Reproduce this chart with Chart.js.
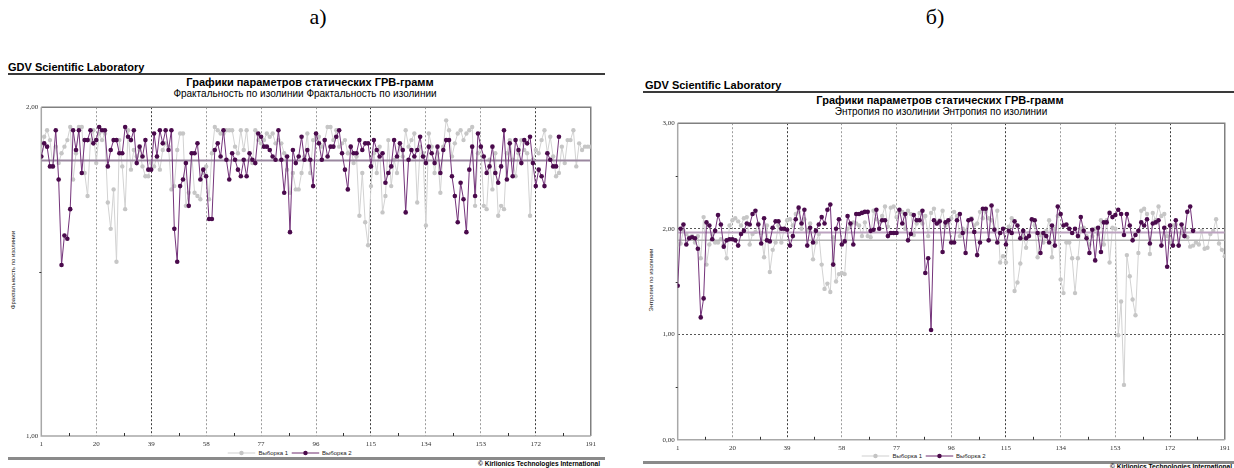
<!DOCTYPE html>
<html lang="ru">
<head>
<meta charset="utf-8">
<script src="https://cdn.jsdelivr.net/npm/chart.js@4.4.1/dist/chart.umd.min.js"></script>
<style>
  html, body { margin: 0; padding: 0; background: #fff; }
  body { width: 1234px; height: 468px; position: relative; overflow: hidden;
         font-family: "Liberation Sans", Arial, sans-serif; color: #000; }
  .t { position: absolute; white-space: nowrap; line-height: 1; }
  .letter { font-family: "Liberation Serif", "Times New Roman", serif; font-size: 22px; transform: translateX(-50%); }
  .lab { font-weight: bold; font-size: 11px; }
  .rule { position: absolute; border-top: 2px solid #3a3a3a; }
  .foot { position: absolute; border-top: 3px solid #8a8a8a; }
  .title { font-weight: bold; font-size: 11px; transform: translateX(-50%); }
  .sub { font-size: 10px; transform: translateX(-50%); }
  .ytitle { font-size: 6px; transform: translate(-50%, -50%) rotate(-90deg); color: #222; }
  .legend { position: absolute; display: flex; align-items: center; font-size: 6px; color: #222;
            transform: translate(-50%, -50%); white-space: nowrap; }
  .legend svg { margin: 0 3px; }
  .copy { font-size: 6.6px; font-weight: bold; }
  canvas { position: absolute; }
</style>
</head>
<body>

<div class="t letter" style="left:318px; top:6px;">а)</div>
<div class="t letter" style="left:935px; top:6px;">б)</div>

<!-- left panel texts -->
<div class="t lab" style="left:8px; top:62px;">GDV Scientific Laboratory</div>
<div class="rule" style="left:8px; top:73px; width:597px;"></div>
<div class="t title" style="left:310px; top:77px;">Графики параметров статических ГРВ-грамм</div>
<div class="t sub" style="left:305px; top:89px;">Фрактальность по изолинии Фрактальность по изолинии</div>
<div class="t ytitle" style="left:13px; top:270px;">Фрактальность по изолинии</div>
<div class="legend" style="left:288px; top:453px;">
  <svg width="28" height="6"><line x1="0" y1="3" x2="28" y2="3" stroke="#cfcfcf" stroke-width="1"/><circle cx="14" cy="3" r="2.2" fill="#c4c4c4"/></svg>Выборка 1
  <svg width="28" height="6"><line x1="0" y1="3" x2="28" y2="3" stroke="#6e2d6e" stroke-width="1"/><circle cx="14" cy="3" r="2.2" fill="#4b0a4b"/></svg>Выборка 2
</div>
<div class="foot" style="left:8px; top:457px; width:597px;"></div>
<div class="t copy" style="right:634px; top:461px;">© Kirlionics Technologies International</div>

<!-- right panel texts -->
<div class="t lab" style="left:645px; top:80px;">GDV Scientific Laboratory</div>
<div class="rule" style="left:643px; top:91px; width:591px;"></div>
<div class="t title" style="left:940px; top:95px;">Графики параметров статических ГРВ-грамм</div>
<div class="t sub" style="left:941px; top:107px;">Энтропия по изолинии Энтропия по изолинии</div>
<div class="t ytitle" style="left:651px; top:280px;">Энтропия по изолинии</div>
<div class="legend" style="left:922px; top:456px;">
  <svg width="28" height="6"><line x1="0" y1="3" x2="28" y2="3" stroke="#cfcfcf" stroke-width="1"/><circle cx="14" cy="3" r="2.2" fill="#c4c4c4"/></svg>Выборка 1
  <svg width="28" height="6"><line x1="0" y1="3" x2="28" y2="3" stroke="#6e2d6e" stroke-width="1"/><circle cx="14" cy="3" r="2.2" fill="#4b0a4b"/></svg>Выборка 2
</div>
<div class="foot" style="left:643px; top:461px; width:591px;"></div>
<div class="t copy" style="left:1110px; top:464px;">© Kirlionics Technologies International</div>

<canvas id="chart_fractal" width="600" height="350" style="left:0; top:100px;"></canvas>
<canvas id="chart_entropy" width="600" height="340" style="left:634px; top:116px;"></canvas>

<script>
// x axis labels, shared by both charts
const xTicks = [1, 20, 39, 58, 77, 96, 115, 134, 153, 172, 191]
const darkLines = [39, 115, 172]

// Фрактальность по изолинии
const fractal_1 = [
    1.87, 1.91, 1.93, 1.90, 1.82, 1.88, 1.83, 1.86, 1.88, 1.90,
    1.94, 1.78, 1.86, 1.94, 1.94, 1.80, 1.73, 1.90, 1.93, 1.83,
    1.92, 1.90, 1.92, 1.71, 1.63, 1.75, 1.53, 1.90, 1.82, 1.69,
    1.93, 1.81, 1.87, 1.85, 1.87, 1.82, 1.79, 1.79, 1.83, 1.82,
    1.85, 1.81, 1.87, 1.89, 1.88, 1.75, 1.76, 1.87, 1.92, 1.92,
    1.70, 1.74, 1.86, 1.74, 1.73, 1.72, 1.80, 1.82, 1.72, 1.86,
    1.94, 1.93, 1.92, 1.92, 1.93, 1.93, 1.93, 1.88, 1.86, 1.93,
    1.87, 1.93, 1.84, 1.83, 1.93, 1.90, 1.89, 1.90, 1.92, 1.91,
    1.92, 1.89, 1.90, 1.89, 1.86, 1.81, 1.74, 1.80, 1.75, 1.75,
    1.80, 1.85, 1.92, 1.80, 1.90, 1.91, 1.91, 1.88, 1.90, 1.94,
    1.94, 1.90, 1.93, 1.88, 1.89, 1.90, 1.86, 1.88, 1.83, 1.85,
    1.67, 1.80, 1.65, 1.58, 1.76, 1.86, 1.80, 1.88, 1.68, 1.73,
    1.90, 1.76, 1.84, 1.80, 1.88, 1.85, 1.93, 1.88, 1.90, 1.92,
    1.71, 1.88, 1.86, 1.64, 1.92, 1.88, 1.80, 1.86, 1.74, 1.88,
    1.96, 1.93, 1.85, 1.89, 1.92, 1.93, 1.90, 1.92, 1.93, 1.94,
    1.70, 1.86, 1.88, 1.70, 1.69, 1.84, 1.75, 1.86, 1.67, 1.70,
    1.69, 1.86, 1.90, 1.84, 1.79, 1.86, 1.90, 1.87, 1.86, 1.67,
    1.84, 1.87, 1.86, 1.90, 1.93, 1.86, 1.91, 1.85, 1.79, 1.80,
    1.88, 1.83, 1.90, 1.90, 1.93, 1.82, 1.89, 1.87, 1.88, 1.88,
    1.88
]
const fractal_2 = [
    1.85, 1.89, 1.88, 1.82, 1.82, 1.93, 1.78, 1.52, 1.61, 1.60,
    1.69, 1.93, 1.87, 1.93, 1.80, 1.90, 1.90, 1.93, 1.89, 1.90,
    1.94, 1.93, 1.93, 1.82, 1.87, 1.90, 1.90, 1.86, 1.86, 1.94,
    1.91, 1.90, 1.93, 1.83, 1.88, 1.85, 1.90, 1.81, 1.81, 1.92,
    1.85, 1.93, 1.89, 1.93, 1.87, 1.93, 1.63, 1.53, 1.76, 1.78,
    1.83, 1.70, 1.86, 1.86, 1.89, 1.78, 1.81, 1.79, 1.66, 1.66,
    1.87, 1.89, 1.85, 1.93, 1.84, 1.78, 1.86, 1.84, 1.81, 1.79,
    1.84, 1.79, 1.86, 1.84, 1.83, 1.92, 1.91, 1.88, 1.88, 1.87,
    1.85, 1.84, 1.93, 1.84, 1.74, 1.85, 1.62, 1.87, 1.83, 1.85,
    1.91, 1.84, 1.87, 1.84, 1.76, 1.92, 1.89, 1.84, 1.90, 1.85,
    1.88, 1.88, 1.91, 1.93, 1.86, 1.81, 1.75, 1.88, 1.86, 1.86,
    1.90, 1.87, 1.89, 1.89, 1.82, 1.90, 1.87, 1.85, 1.86, 1.77,
    1.80, 1.82, 1.90, 1.85, 1.89, 1.87, 1.68, 1.84, 1.87, 1.85,
    1.87, 1.91, 1.85, 1.83, 1.88, 1.86, 1.83, 1.88, 1.80, 1.87,
    1.90, 1.90, 1.79, 1.73, 1.65, 1.77, 1.72, 1.62, 1.81, 1.88,
    1.73, 1.92, 1.88, 1.85, 1.80, 1.82, 1.88, 1.80, 1.77, 1.82,
    1.93, 1.78, 1.89, 1.79, 1.90, 1.87, 1.83, 1.90, 1.89, 1.91,
    1.83, 1.76, 1.81, 1.79, 1.76, 1.86, 1.84, 1.82, 1.82, 1.91
]
const fractal_mean = 1.838

// Энтропия по изолинии
const entropy_1 = [
    1.85, 1.86, 1.98, 1.95, 1.92, 1.93, 1.87, 1.93, 1.72, 2.11,
    1.66, 1.85, 1.94, 1.87, 1.87, 1.90, 1.85, 1.72, 2.03, 2.08,
    2.10, 2.07, 2.03, 2.10, 2.11, 1.85, 1.95, 1.97, 2.05, 1.96,
    1.73, 2.03, 1.59, 1.80, 1.87, 2.03, 1.87, 2.00, 2.08, 2.09,
    2.03, 2.14, 2.16, 2.00, 2.09, 1.98, 2.05, 1.71, 1.87, 1.95,
    1.66, 1.43, 1.48, 1.40, 1.92, 1.50, 1.57, 1.58, 1.57, 2.00,
    2.03, 2.06, 2.05, 2.03, 1.93, 2.06, 1.93, 1.92, 2.17, 2.09,
    2.06, 2.12, 2.21, 2.02, 2.20, 2.21, 2.11, 2.16, 2.16, 2.00,
    2.17, 2.14, 1.94, 2.05, 2.15, 2.05, 2.12, 1.93, 2.15, 2.19,
    2.05, 2.08, 2.17, 2.03, 2.06, 2.10, 2.16, 2.12, 1.93, 2.00,
    1.98, 2.08, 2.10, 2.03, 2.05, 2.16, 2.10, 2.16, 2.10, 2.08,
    2.00, 2.17, 1.68, 1.74, 1.68, 2.02, 2.10, 1.41, 1.49, 1.67,
    1.93, 1.82, 1.96, 2.08, 2.03, 1.73, 1.94, 1.87, 1.98, 2.08,
    1.73, 2.00, 2.12, 1.52, 1.39, 1.87, 1.87, 1.72, 1.39, 1.72,
    2.00, 2.01, 1.93, 1.85, 1.93, 2.00, 1.95, 2.08, 1.85, 2.08,
    1.68, 2.01, 2.00, 0.99, 1.31, 0.52, 1.75, 1.55, 1.33, 1.18,
    1.77, 2.17, 2.19, 2.14, 1.76, 2.15, 2.08, 2.21, 2.12, 2.14,
    1.93, 1.87, 2.03, 2.04, 1.84, 1.96, 2.00, 1.92, 1.83, 1.84,
    1.87, 1.85, 1.98, 1.81, 1.82, 1.95, 1.98, 2.09, 1.86, 1.80,
    1.74
]
const entropy_2 = [
    1.46, 2.00, 2.04, 1.85, 1.91, 1.92, 1.91, 1.81, 1.16, 1.34,
    2.06, 2.03, 1.90, 1.98, 2.13, 2.04, 1.83, 1.89, 1.90, 1.90,
    1.89, 1.84, 1.95, 1.98, 2.05, 2.04, 2.14, 2.17, 2.04, 1.86,
    2.10, 1.89, 1.88, 2.01, 2.07, 2.07, 2.00, 2.00, 1.99, 1.84,
    1.93, 2.09, 2.20, 2.05, 2.18, 1.84, 2.01, 1.87, 1.98, 2.04,
    2.11, 2.05, 2.18, 2.23, 1.66, 2.00, 2.09, 1.85, 1.88, 2.12,
    2.05, 1.85, 2.14, 2.14, 2.15, 2.16, 2.16, 1.98, 1.99, 2.18,
    2.00, 2.08, 2.08, 1.93, 1.96, 1.96, 1.96, 2.18, 2.05, 2.14,
    1.89, 1.95, 2.13, 2.08, 2.08, 2.17, 1.58, 1.72, 1.04, 2.08,
    2.05, 2.07, 1.78, 2.06, 2.08, 1.87, 1.87, 2.08, 2.14, 1.96,
    1.77, 2.08, 2.09, 1.97, 1.75, 1.87, 2.19, 2.19, 1.89, 2.22,
    1.99, 1.87, 1.96, 2.00, 1.85, 1.98, 1.96, 2.07, 2.03, 1.91,
    1.98, 1.91, 1.93, 2.09, 2.08, 1.96, 1.77, 1.96, 1.93, 1.87,
    2.03, 1.84, 2.21, 2.14, 2.03, 2.04, 2.00, 1.96, 2.00, 1.93,
    2.11, 1.98, 1.91, 1.77, 1.99, 1.70, 2.01, 1.78, 2.06, 2.06,
    2.15, 2.11, 2.13, 2.18, 2.14, 1.94, 2.14, 2.03, 1.89, 1.94,
    1.98, 2.06, 2.03, 2.09, 1.86, 2.05, 2.06, 2.08, 1.84, 2.01,
    1.64, 2.03, 1.84, 2.08, 1.84, 2.04, 1.93, 2.16, 2.21, 1.98
]
const entropy_mean_1 = 1.89
const entropy_mean_2 = 1.965

const toPoints = vals => vals.map((v, i) => ({ x: i + 1, y: v }))
const flat = v => [{ x: xTicks[0], y: v }, { x: xTicks[xTicks.length - 1], y: v }]
const comma = v => v.toFixed(2).replace('.', ',')

// frame round the plot area plus the small minor tick marks on both axes
const framePlugin = {
    id: 'frame',
    beforeDatasetsDraw(chart, args, opts) {
        const { ctx, chartArea: a, scales } = chart
        ctx.save()
        ctx.lineWidth = 1.5
        ctx.strokeStyle = opts.dark
        ctx.beginPath()
        ctx.moveTo(a.left, a.top); ctx.lineTo(a.right, a.top); ctx.lineTo(a.right, a.bottom)
        ctx.stroke()
        ctx.strokeStyle = opts.light
        ctx.beginPath()
        ctx.moveTo(a.left, a.top); ctx.lineTo(a.left, a.bottom); ctx.lineTo(a.right, a.bottom)
        ctx.stroke()

        ctx.strokeStyle = '#333'
        ctx.lineWidth = 1
        ctx.beginPath()
        for (let k = 0; k < xTicks.length - 1; k++) {
            const px = Math.round(scales.x.getPixelForValue((xTicks[k] + xTicks[k + 1]) / 2)) + 0.5
            ctx.moveTo(px, a.bottom); ctx.lineTo(px, a.bottom - 3)
        }
        opts.yMinor.forEach(v => {
            const py = Math.round(scales.y.getPixelForValue(v)) + 0.5
            ctx.moveTo(a.left - 2, py); ctx.lineTo(a.left, py)
        })
        ctx.stroke()
        ctx.restore()
    }
}

function buildChart(id, sets, axis) {
    return new Chart(document.getElementById(id), {
        type: 'line',
        data: { datasets: sets },
        options: {
            responsive: false,
            animation: false,
            events: [],
            layout: { padding: { top: axis.padTop, right: axis.padRight, left: 0, bottom: 0 } },
            plugins: {
                legend: { display: false },
                tooltip: { enabled: false },
                frame: { dark: '#808080', light: '#a8a8a8', yMinor: axis.yMinor }
            },
            scales: {
                x: {
                    type: 'linear',
                    min: xTicks[0],
                    max: xTicks[xTicks.length - 1],
                    afterBuildTicks: s => { s.ticks = xTicks.map(v => ({ value: v })) },
                    afterFit: s => { s.height = axis.xHeight },
                    grid: {
                        drawTicks: false,
                        lineWidth: 1,
                        color: c => {
                            const v = c.tick ? c.tick.value : null
                            if (v === xTicks[0] || v === xTicks[xTicks.length - 1]) return 'rgba(0,0,0,0)'
                            return darkLines.includes(v) ? '#3c3c3c' : '#9c9c9c'
                        }
                    },
                    border: { display: false, dash: [2, 2] },
                    ticks: {
                        padding: 4,
                        maxRotation: 0,
                        autoSkip: false,
                        color: '#333',
                        font: { family: 'Liberation Serif', size: 7 },
                        callback: v => String(v)
                    }
                },
                y: {
                    min: axis.yTicks[0],
                    max: axis.yTicks[axis.yTicks.length - 1],
                    afterBuildTicks: s => { s.ticks = axis.yTicks.map(v => ({ value: v })) },
                    afterFit: s => { s.width = axis.yWidth },
                    grid: {
                        drawTicks: false,
                        lineWidth: 1,
                        color: c => c.tick && axis.yGrid.includes(c.tick.value) ? '#555' : 'rgba(0,0,0,0)'
                    },
                    border: { display: false, dash: [2, 2] },
                    ticks: {
                        padding: 3,
                        color: '#333',
                        font: { family: 'Liberation Serif', size: 7 },
                        callback: v => comma(v)
                    }
                }
            }
        },
        plugins: [framePlugin]
    })
}

const grayLine = vals => ({
    data: toPoints(vals), order: 3,
    borderColor: '#d2d2d2', borderWidth: 1,
    pointRadius: 2.2, pointBackgroundColor: '#c6c6c6', pointBorderWidth: 0, tension: 0
})
const purpleLine = vals => ({
    data: toPoints(vals), order: 0,
    borderColor: '#74337a', borderWidth: 1,
    pointRadius: 2.3, pointBackgroundColor: '#4a0a4c', pointBorderWidth: 0, tension: 0
})
const meanLine = (v, color, width, order) => ({
    data: flat(v), order,
    borderColor: color, borderWidth: width, pointRadius: 0, tension: 0
})

buildChart('chart_fractal', [
    purpleLine(fractal_2),
    meanLine(fractal_mean, '#9a879f', 2, 1),
    grayLine(fractal_1)
], { yTicks: [1, 2], yGrid: [], yMinor: [1.5], yWidth: 41.3, padTop: 6, padRight: 7.3, xHeight: 14 })

buildChart('chart_entropy', [
    purpleLine(entropy_2),
    meanLine(entropy_mean_2, '#bca3c0', 2, 1),
    meanLine(entropy_mean_1, '#b4b4b4', 1.5, 2),
    grayLine(entropy_1)
], { yTicks: [0, 1, 2, 3], yGrid: [1, 2], yMinor: [0.5, 1.5, 2.5], yWidth: 43.7, padTop: 6.7, padRight: 6, xHeight: 16.2 })
</script>
</body>
</html>
